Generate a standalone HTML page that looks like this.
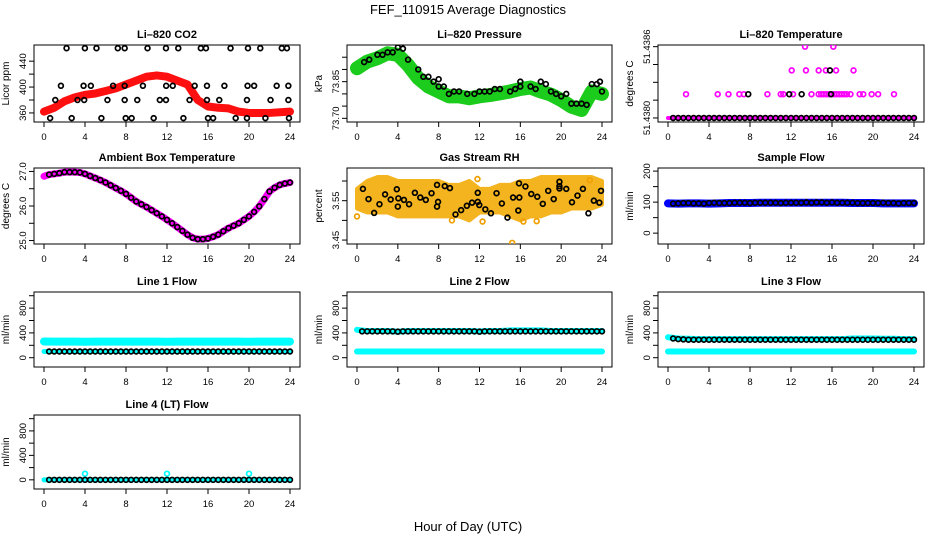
<!DOCTYPE html>
<html><head><meta charset="utf-8">
<style>
html,body{margin:0;padding:0;background:#fff;}
svg{display:block;font-family:"Liberation Sans",sans-serif;}
</style></head>
<body>
<svg id="chart" width="936" height="540" viewBox="0 0 936 540">
<text x="468" y="14" text-anchor="middle" font-size="13">FEF_110915  Average Diagnostics</text>
<text x="468" y="531" text-anchor="middle" font-size="13">Hour of Day (UTC)</text>
</svg>
<script>
// ---- shared axis data ----
const xTicks = [0,4,8,12,16,20,24];
const halfHours = [0.5,1,1.5,2,2.5,3,3.5,4,4.5,5,5.5,6,6.5,7,7.5,8,8.5,9,9.5,10,10.5,11,11.5,12,12.5,13,13.5,14,14.5,15,15.5,16,16.5,17,17.5,18,18.5,19,19.5,20,20.5,21,21.5,22,22.5,23,23.5,24];
const hours = [0,1,2,3,4,5,6,7,8,9,10,11,12,13,14,15,16,17,18,19,20,21,22,23,24];

// ---- CO2 ----
const co2Band = [362,368,378,384,388,390,394,398,404,410,416,418,416,410,404,380,370,368,367,362,360,360,360,361,362];
const co2BlackT = [2.2,3.99,5.12,7.2,7.87,10.1,11.9,13.1,15.3,15.8,18.2,19.9,21.1,23.2,23.7, 1.65,3.86,4.57,6.74,7.87,9.65,11.92,12.56,14.7,15.9,17.6,19.86,20.5,22.7,23.84, 1.1,3.27,3.92,6.19,7.87,9.1,11.3,11.9,14.2,15.9,17.1,19.8,22.1,23.84, 0.6,2.7,5.6,7.97,8.55,10.7,13.6,16.0,16.5,18.7,19.8,21.6,23.9];
const co2BlackV = [460,460,460,460,460,460,460,460,460,460,460,460,460,460,460, 402,402,402,402,402,402,402,402,402,402,402,402,402,402,402, 380,380,380,380,380,380,380,380,380,380,380,380,380,380, 352,352,352,352,352,352,352,352,352,352,352,352,352];

// ---- Pressure ----
const presBand = [73.905,73.932,73.946,73.966,73.96,73.918,73.864,73.83,73.81,73.79,73.79,73.782,73.79,73.795,73.802,73.81,73.82,73.826,73.81,73.797,73.775,73.748,73.734,73.81,73.80];
const presBlackT = [0.7,1.2,2,2.5,3,3.5,4,4.5,5,6,6.5,7,7.5,8,8,8.5,9,9.5,10,10.8,11.5,12,12.5,13,13.5,14,15,15.5,16,16,17,17.5,18,18.5,19,19.5,20,20.5,21,21.5,22,22.5,23,23.5,23.8,24];
const presBlackV = [73.93,73.94,73.96,73.96,73.97,73.97,73.99,73.985,73.94,73.90,73.87,73.87,73.85,73.86,73.83,73.83,73.80,73.81,73.81,73.80,73.80,73.81,73.81,73.81,73.82,73.82,73.81,73.82,73.85,73.83,73.83,73.82,73.85,73.84,73.81,73.80,73.79,73.80,73.76,73.76,73.76,73.755,73.84,73.84,73.85,73.81];

// ---- Li-820 temperature ----
const tempMagT = [1.76,4.85,5.9,6.96,7.4,9.7,11.0,11.25,12.2,14.0,14.7,14.95,15.2,15.45,15.7,15.95,16.2,16.45,16.7,16.95,17.2,17.45,17.8,18.7,19.05,19.87,20.5,22.05, 12.07,13.46,14.7,15.4,16.4,18.1, 13.37,16.13];
const tempMagV = [51.4382,51.4382,51.4382,51.4382,51.4382,51.4382,51.4382,51.4382,51.4382,51.4382,51.4382,51.4382,51.4382,51.4382,51.4382,51.4382,51.4382,51.4382,51.4382,51.4382,51.4382,51.4382,51.4382,51.4382,51.4382,51.4382,51.4382,51.4382, 51.4384,51.4384,51.4384,51.4384,51.4384,51.4384, 51.4386,51.4386];
const tempBlackT = [7.83,11.83,13.04,15.9,15.8];
const tempBlackV = [51.4382,51.4382,51.4382,51.4382,51.4384];
const tempBase = [51.4380,51.4380];

// ---- Ambient box temperature ----
const ambVals = [26.86,26.91,26.93,26.95,26.98,26.98,26.98,26.97,26.93,26.87,26.81,26.75,26.68,26.60,26.52,26.44,26.35,26.24,26.13,26.05,25.97,25.88,25.79,25.70,25.60,25.50,25.39,25.28,25.17,25.08,25.04,25.04,25.06,25.11,25.17,25.27,25.36,25.43,25.50,25.60,25.70,25.83,25.99,26.20,26.42,26.53,26.61,26.65,26.68];

// ---- Gas stream RH ----
const rhUpper = [3.58,3.60,3.61,3.61,3.60,3.60,3.60,3.60,3.60,3.59,3.59,3.60,3.58,3.58,3.59,3.59,3.60,3.60,3.61,3.61,3.61,3.61,3.61,3.61,3.60];
const rhLower = [3.53,3.52,3.52,3.52,3.51,3.51,3.51,3.51,3.51,3.51,3.51,3.50,3.52,3.52,3.52,3.51,3.50,3.51,3.51,3.52,3.52,3.53,3.53,3.53,3.54];
const rhOutT = [0,15.2,12.3,16.3,17.6,22.8,11.8,9.3];
const rhOutV = [3.51,3.443,3.497,3.497,3.498,3.602,3.605,3.500];
const rhBlackT = [0.58,1.13,1.68,2.2,2.75,3.3,3.9,4.0,4.05,4.6,5.1,5.67,6.2,6.74,7.3,7.84,7.94,7.84,8.6,9.1,9.65,10.2,10.76,11.27,11.83,11.83,11.98,12.57,13.12,13.67,14.19,14.74,15.29,15.8,15.87,15.9,16.5,17.07,17.66,18.2,18.73,19.27,19.83,19.83,19.83,20.5,21.06,21.6,22.13,22.67,23.2,23.74,23.9];
const rhBlackV = [3.580,3.554,3.519,3.541,3.566,3.553,3.579,3.535,3.556,3.552,3.541,3.570,3.558,3.552,3.569,3.590,3.547,3.535,3.587,3.582,3.515,3.526,3.537,3.545,3.570,3.547,3.539,3.528,3.518,3.569,3.543,3.507,3.558,3.525,3.594,3.558,3.586,3.567,3.560,3.542,3.575,3.554,3.598,3.587,3.581,3.580,3.546,3.563,3.580,3.518,3.550,3.545,3.575];

// ---- Flows ----
const sampleBand = [96,95,96,96,95,96,97,97,97,98,98,98,98,98,98,98,98,98,97,97,97,96,96,96,96];
const sampleBlack = [95,96,97,97,96,96,95,97,98,97,97,97,98,98,98,97,98,98,98,98,98,97,98,98,98,98,99,98,99,99,98,99,98,98,98,98,97,97,97,97,97,98,97,97,96,97,97,97];
const line1Cyan = [262,260,260,260,258,260,260,260,260,260,260,260,258,260,260,260,260,260,260,260,258,260,260,260,260];
const line1Low = [100,100,100,100,100,100,100,100,100,100,100,100,100,100,100,100,100,100,100,100,100,100,100,100,100];
const line1Black = [100,100,100,100,100,100,100,100,100,100,100,100,100,100,100,100,100,100,100,100,100,100,100,100,100,100,100,100,100,100,100,100,100,100,100,100,100,100,100,100,100,100,100,100,100,100,100,100];
const line2Cyan = [450,430,430,430,420,430,430,430,430,430,430,430,425,430,430,440,440,440,440,430,430,430,430,430,430];
const line2Low = [100,100,100,100,100,100,100,100,100,100,100,100,100,100,100,100,100,100,100,100,100,100,100,100,100];
const line2Black = [425,425,425,425,425,425,425,420,425,425,425,425,425,425,425,425,425,425,425,425,425,425,425,420,425,425,425,425,425,425,425,425,425,425,425,425,425,425,425,425,425,425,425,425,425,425,425,425];
const line3Cyan = [330,310,305,300,300,300,300,300,300,300,300,300,300,300,300,300,300,300,310,310,310,305,305,300,300];
const line3Low = [100,100,100,100,100,100,100,100,100,100,100,100,100,100,100,100,100,100,100,100,100,100,100,100,100];
const line3Black = [310,300,295,290,290,290,290,290,290,290,290,290,290,290,290,290,290,290,290,290,290,290,290,290,290,290,290,290,290,290,290,290,290,290,290,290,290,290,290,290,290,290,290,290,290,290,290,290];
const line4Cyan = [0,0,0,0,0,0,0,0,0,0,0,0,0,0,0,0,0,0,0,0,0,0,0,0,0];
const line4OutT = [4,12,20];
const line4OutV = [100,100,100];
const line4Black = [0,0,0,0,0,0,0,0,0,0,0,0,0,0,0,0,0,0,0,0,0,0,0,0,0,0,0,0,0,0,0,0,0,0,0,0,0,0,0,0,0,0,0,0,0,0,0,0];

// ---- drawing ----
const NS = "http://www.w3.org/2000/svg";
const svg = document.getElementById('chart');
function mk(tag, attrs, parent){
  const e = document.createElementNS(NS, tag);
  for (const k in attrs) e.setAttribute(k, attrs[k]);
  (parent||svg).appendChild(e);
  return e;
}
const cols = [[34,300],[347,612],[658,924]];
const rows = [[45,122],[168,244],[292,367],[415,489]];

function panel(name, col, row, ymin, ymax, yticks, ylabels, title, ylab){
  const L=cols[col][0], R=cols[col][1], T=rows[row][0], B=rows[row][1];
  const g = mk('g', {});
  
  
  const p = {g, x:h=>L+10+h*(R-L-20)/24, y:v=>B-(v-ymin)/(ymax-ymin)*(B-T)};
  const box = mk('rect',{x:L,y:T,width:R-L,height:B-T,fill:'none',stroke:'#000','stroke-width':1},g);
  
  
  const t = mk('text',{x:(L+R)/2,y:T-7,'text-anchor':'middle','font-size':11,'font-weight':'bold'},g);
  t.textContent = title;
  
  
  const yl = mk('text',{transform:`translate(${L-25},${(T+B)/2}) rotate(-90)`,'text-anchor':'middle','font-size':10},g);
  yl.textContent = ylab;
  
  
  mk('line',{x1:p.x(0),x2:p.x(24),y1:B,y2:B,stroke:'#000'},g);
  xTicks.forEach(h=>{
    mk('line',{x1:p.x(h),x2:p.x(h),y1:B,y2:B+5,stroke:'#000'},g);
    const tl = mk('text',{x:p.x(h),y:B+18,'text-anchor':'middle','font-size':9.5},g);
    tl.textContent = h;
    
    
  });
  mk('line',{x1:L,x2:L,y1:p.y(yticks[0]),y2:p.y(yticks[yticks.length-1]),stroke:'#000'},g);
  yticks.forEach(v=>{ mk('line',{x1:L-5,x2:L,y1:p.y(v),y2:p.y(v),stroke:'#000'},g); });
  ylabels.forEach(s=>{
    const tl = mk('text',{transform:`translate(${L-8},${p.y(parseFloat(s))}) rotate(-90)`,'text-anchor':'middle','font-size':9.5},g);
    tl.textContent = s;
    
    
  });
  const clip = 'clip-'+name;
  const cp = mk('clipPath',{id:clip},g);
  mk('rect',{x:L,y:T,width:R-L,height:B-T},cp);
  p.d = mk('g',{'clip-path':`url(#${clip})`},g);
  return p;
}
function band(p, ts, vs, color, w, nm){
  const pts = ts.map((t,i)=>p.x(t)+','+p.y(vs[i])).join(' ');
  const e = mk('polyline',{points:pts,fill:'none',stroke:color,'stroke-width':w,'stroke-linejoin':'round','stroke-linecap':'round'},p.d);
  
  
}
function area(p, ts, up, lo, color, nm){
  const pts = ts.map((t,i)=>p.x(t)+','+p.y(up[i])).concat(ts.slice().reverse().map((t,j)=>p.x(t)+','+p.y(lo[ts.length-1-j]))).join(' ');
  const e = mk('polygon',{points:pts,fill:color,stroke:color,'stroke-width':4,'stroke-linejoin':'round'},p.d);
  
  
}
function pts(p, ts, vs, color, nm){
  ts.forEach((t,i)=>{
    const c = mk('circle',{cx:p.x(t),cy:p.y(vs[i]),r:2.4,fill:'none',stroke:color,'stroke-width':1.7},p.d);
    
    
  });
}

let p = panel('co2',0,0,346,465,[360,380,400,420,440],['360','400','440'],'Li\u2013820 CO2','Licor ppm');
band(p,hours,co2Band,'#ff1010',8,'co2-band');
pts(p,co2BlackT,co2BlackV,'#000','co2-point');

p = panel('pressure',1,0,73.685,74.0,[73.70,73.75,73.80,73.85,73.90,73.95],['73.70','73.85'],'Li\u2013820 Pressure','kPa');
band(p,hours,presBand,'#1ccc1c',14,'pressure-band');
pts(p,presBlackT,presBlackV,'#000','pressure-point');

p = panel('li820-temp',2,0,51.437966,51.438614,[51.4380,51.43815,51.4383,51.43845,51.4386],['51.4380','51.4386'],'Li\u2013820 Temperature','degrees C');
band(p,[0,24],tempBase,'#ff00ff',4,'temp-base-band');
pts(p,tempMagT,tempMagV,'#ff00ff','temp-magenta-point');
pts(p,halfHours,halfHours.map(()=>tempBase[0]),'#000','temp-point');
pts(p,tempBlackT,tempBlackV,'#000','temp-point');

p = panel('ambient',0,1,24.9,27.1,[25,25.5,26,26.5,27],['25.0','26.0','27.0'],'Ambient Box Temperature','degrees C');
band(p,[0].concat(halfHours),ambVals,'#ff00ff',7,'ambient-band');
pts(p,halfHours,ambVals.slice(1),'#000','ambient-point');

p = panel('rh',1,1,3.44,3.633,[3.45,3.50,3.55,3.60],['3.45','3.55'],'Gas Stream RH','percent');
area(p,hours,rhUpper,rhLower,'#f4b420','rh-band');
pts(p,rhOutT,rhOutV,'#f0a000','rh-outlier');
pts(p,rhBlackT,rhBlackV,'#000','rh-point');

p = panel('sample-flow',2,1,-35,210,[0,50,100,150,200],['0','100','200'],'Sample Flow','ml/min');
band(p,hours,sampleBand,'#0000ff',8,'sample-band');
pts(p,halfHours,sampleBlack,'#000','sample-point');

const fT=[0,200,400,600,800,1000], fL=['0','400','800'];
p = panel('line1',0,2,-150,1060,fT,fL,'Line 1 Flow','ml/min');
band(p,hours,line1Cyan,'#00ffff',8,'line1-cyan-band');
band(p,hours,line1Low,'#00ffff',5,'line1-low-band');
pts(p,halfHours,line1Black,'#000','line1-point');
p = panel('line2',1,2,-150,1060,fT,fL,'Line 2 Flow','ml/min');
band(p,hours,line2Cyan,'#00ffff',6,'line2-cyan-band');
band(p,hours,line2Low,'#00ffff',6,'line2-low-band');
pts(p,halfHours,line2Black,'#000','line2-point');
p = panel('line3',2,2,-150,1060,fT,fL,'Line 3 Flow','ml/min');
band(p,hours,line3Cyan,'#00ffff',6,'line3-cyan-band');
band(p,hours,line3Low,'#00ffff',6,'line3-low-band');
pts(p,halfHours,line3Black,'#000','line3-point');
p = panel('line4',0,3,-150,1060,fT,fL,'Line 4 (LT) Flow','ml/min');
band(p,hours,line4Cyan,'#00ffff',5,'line4-cyan-band');
pts(p,line4OutT,line4OutV,'#00ffff','line4-outlier');
pts(p,halfHours,line4Black,'#000','line4-point');
</script>
</body></html>
